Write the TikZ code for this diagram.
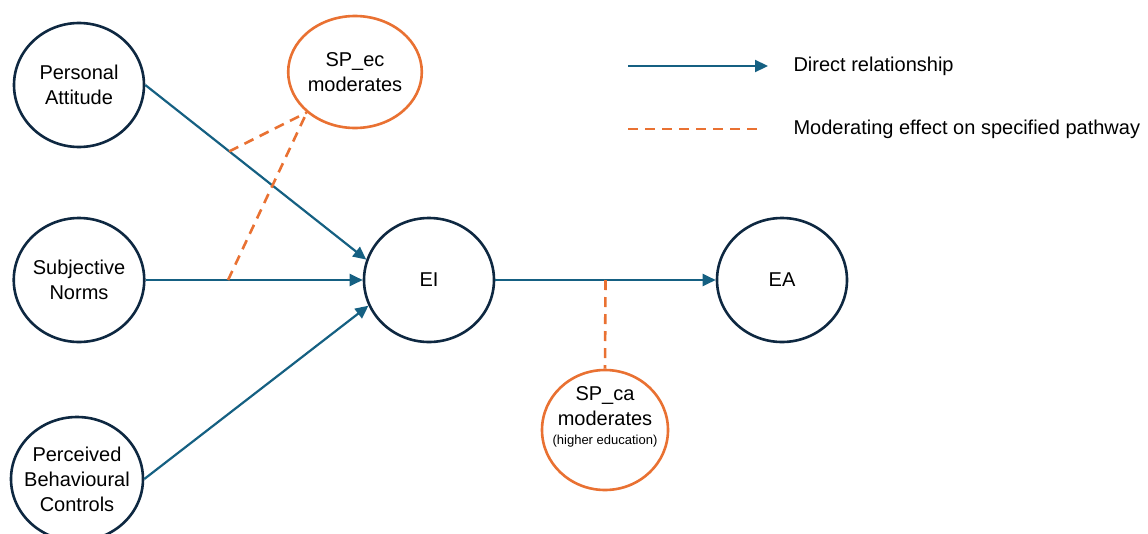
\documentclass[tikz,border=0pt]{standalone}
\usepackage{fontspec}
\setmainfont{Liberation Sans}
\usetikzlibrary{shapes.geometric,arrows.meta}
\definecolor{navy}{HTML}{0E2841}
\definecolor{pathblue}{HTML}{156082}
\definecolor{modorange}{HTML}{E97132}
\tikzset{
  construct/.style={ellipse, draw=navy, line width=2.6pt, fill=white, inner sep=0,
    minimum width=130pt, minimum height=124pt, align=center,
    font=\fontsize{20}{25}\selectfont},
  moderator/.style={construct, draw=modorange},
  direct/.style={draw=pathblue, line width=2.2pt, -{Triangle[length=13pt,width=12pt]}},
  moderating/.style={draw=modorange, line width=2.6pt, dash pattern=on 10pt off 7pt},
  legendtext/.style={anchor=west, font=\fontsize{20}{24}\selectfont}
}
\begin{document}
\begin{tikzpicture}[x=1pt, y=-1pt]
      \useasboundingbox (0,0) rectangle (1148,533);
      % CONSTRUCTS
      \node[construct] (pa) at (79,85) {Personal\\Attitude};
      \node[construct] (sn) at (79,280) {Subjective\\Norms};
      \node[construct, inner sep=-13pt, minimum width=132pt] (pbc) at (77,479) {Perceived\\Behavioural\\Controls};
      \node[construct] (ei) at (429,280) {EI};
      \node[construct] (ea) at (782,280) {EA};
      % MODERATORS
      \node[moderator, minimum height=112pt] (spec) at (355,72) {SP\_ec\\moderates};
      \node[moderator, minimum width=126pt, minimum height=120pt] (spca) at (605,430) {};
      \node[align=center, font=\fontsize{20}{25}\selectfont] (spcatext) at (605,417)
        {SP\_ca\\moderates\\[-6pt]{\fontsize{13}{15}\selectfont(higher education)}};
      % DIRECT PATHS
      \draw[direct] (pa.east) -- (ei.162) coordinate[pos=0.38] (m1);
      \draw[direct] (sn.east) -- (ei.west) coordinate[pos=0.38] (m2);
      \draw[direct] (pbc.east) -- (ei.203);
      \draw[direct] (ei.east) -- (ea.west) coordinate[pos=0.5] (m3);
      % MODERATING EFFECTS
      \draw[moderating] (m1) -- (spec.220);
      \draw[moderating] (m2) -- (spec.220);
      \draw[moderating] (m3) -- (spca.north);
      % LEGEND
      \coordinate (l1a) at (628,66);
      \coordinate (l1b) at (768,66);
      \coordinate (l2a) at (628,129);
      \coordinate (l2b) at (762,129);
      \draw[direct] (l1a) -- (l1b);
      \draw[moderating] (l2a) -- (l2b);
      \node[legendtext] (t1) at (790,66) {Direct relationship};
      \node[legendtext] (t2) at (790,129) {Moderating effect on specified pathway};
    \end{tikzpicture}
\end{document}
